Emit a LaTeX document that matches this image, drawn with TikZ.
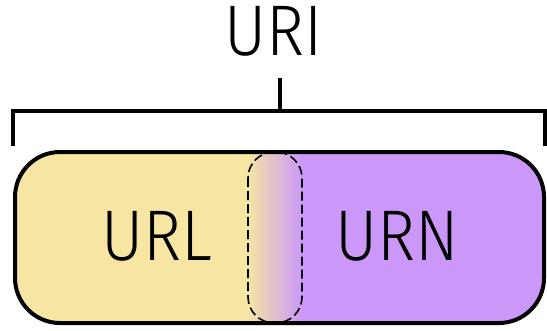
\documentclass[tikz,border=0pt]{standalone}
\usepackage{fontspec}
\setmainfont{Fira Sans}[UprightFont=* Light]
\usetikzlibrary{positioning}
\definecolor{urlyellow}{HTML}{F6E5A3}
\definecolor{urnviolet}{HTML}{CB98FA}
\tikzset{
  pill/.style={draw=black, line width=4bp, rounded corners=45bp},
  pillclip/.style={rounded corners=45bp},
  lbl/.style={font=\fontsize{72}{80}\selectfont, inner sep=0pt, xscale=0.9},
  bracket/.style={draw=black, line width=3.5bp},
  overlap/.style={draw=black, dash pattern=on 9bp off 4bp, line width=1.6bp, rounded corners=26bp},
}
\begin{document}
\begin{tikzpicture}[x=1bp,y=-1bp]
  \useasboundingbox (0,0) rectangle (547,330);
  % fills of the two halves and the shared strip
  \begin{scope}
    \clip[pillclip] (15,152) rectangle (544,323);
    \fill[urlyellow] (15,152) rectangle (248,323);
    \shade[left color=urlyellow, right color=urnviolet] (248,152) rectangle (302,323);
    \fill[urnviolet] (302,152) rectangle (544,323);
  \end{scope}
  \draw[overlap] (248,152) rectangle (302,323);
  \draw[pill] (15,152) rectangle (544,323);
  \node[lbl] (url) at (156.5,236) {URL};
  \node[lbl] (urn) at (397,236) {URN};
  \node[lbl] (uri) at (274,31) {URI};
  % bracket
  \coordinate (bl) at (13,146);
  \coordinate (br) at (545,146);
  \coordinate (stemtop) at (280,78);
  \coordinate (stembot) at (280,111);
  \draw[bracket] (bl) |- (stembot) -| (br);
  \draw[bracket] (stemtop) -- (stembot);
\end{tikzpicture}
\end{document}
